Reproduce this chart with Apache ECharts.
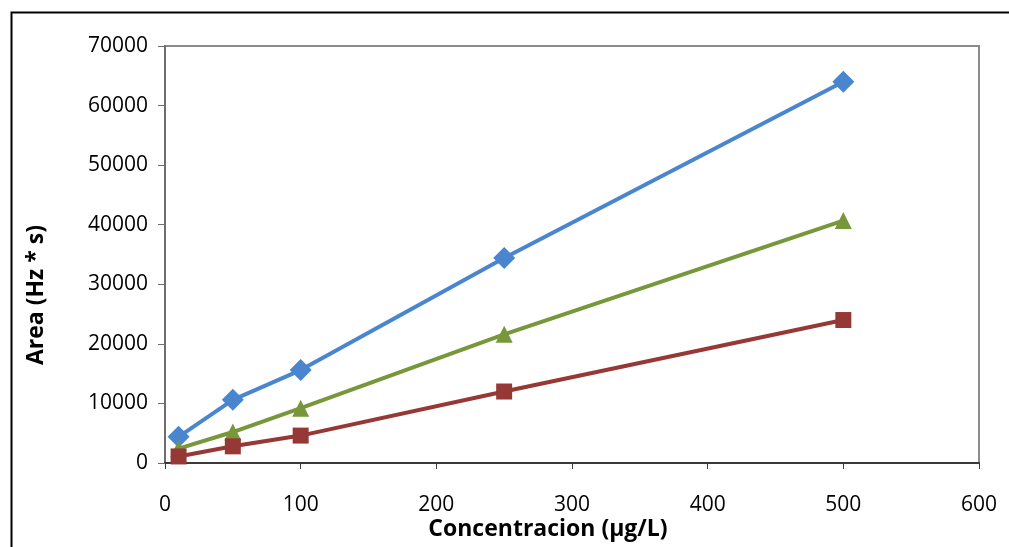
<!DOCTYPE html>
<html>
<head>
<meta charset="utf-8">
<script src="https://cdn.jsdelivr.net/npm/echarts@6/dist/echarts.min.js"></script>
<style>
  html, body { margin: 0; padding: 0; background: #fff; }
  #chart { width: 1009px; height: 547px; }
</style>
</head>
<body>
<div id="chart"></div>
<script>
// datos
const conc = [10, 50, 100, 250, 500];
const serieAzul = [4400, 10600, 15600, 34400, 64000];
const serieVerde = [2400, 5200, 9200, 21600, 40700];
const serieRoja = [1100, 2800, 4600, 12000, 24000];

const xTitulo = 'Concentracion (µg/L)';
const yTitulo = 'Area (Hz * s)';

const fuente = '"Open Sans", "Liberation Sans", sans-serif';

function pares(xs, ys) {
  return xs.map((x, i) => [x, ys[i]]);
}

function serie(nombre, datos, color, simbolo, tam) {
  return {
    name: nombre,
    type: 'line',
    data: pares(conc, datos),
    symbol: simbolo,
    symbolSize: tam,
    lineStyle: { color: color, width: 4 },
    itemStyle: { color: color },
    z: 3
  };
}

const chart = echarts.init(document.getElementById('chart'));

const option = {
  animation: false,
  backgroundColor: '#fff',
  grid: {
    left: 165,
    right: 30,
    top: 46,
    bottom: 84,
    show: true,
    borderColor: '#8c8c8c',
    borderWidth: 2,
    backgroundColor: 'transparent'
  },
  xAxis: {
    type: 'value',
    min: 0,
    max: 600,
    interval: 100,
    axisLine: { onZero: false, lineStyle: { color: '#3a3a3a', width: 2 } },
    axisTick: { show: true, length: 6, lineStyle: { color: '#3a3a3a', width: 1 } },
    axisLabel: { margin: 32, fontFamily: fuente, fontSize: 21, color: '#000' },
    splitLine: { show: false }
  },
  yAxis: {
    type: 'value',
    min: 0,
    max: 70000,
    interval: 10000,
    axisLine: { show: true, lineStyle: { color: '#6e6e6e', width: 2 } },
    axisTick: { show: true, length: 7, lineStyle: { color: '#6e6e6e', width: 1 } },
    axisLabel: {
      margin: 17,
      fontFamily: fuente,
      fontSize: 21,
      color: '#000',
      formatter: v => String(v)
    },
    splitLine: { show: false }
  },
  series: [
    serie('Azul', serieAzul, '#4a86cf', 'diamond', 22),
    serie('Verde', serieVerde, '#77973a', 'triangle', 17),
    serie('Roja', serieRoja, '#963835', 'rect', 16)
  ],
  graphic: [
    {
      type: 'rect',
      left: 9,
      top: 10,
      shape: { width: 1010, height: 545 },
      style: { fill: 'none', stroke: '#000', lineWidth: 2 },
      silent: true
    },
    {
      type: 'text',
      x: 548,
      y: 529,
      style: {
        text: xTitulo,
        font: 'bold 23px ' + fuente,
        fill: '#000',
        align: 'center',
        verticalAlign: 'middle'
      }
    },
    {
      type: 'text',
      x: 36,
      y: 295,
      rotation: Math.PI / 2,
      style: {
        text: yTitulo,
        font: 'bold 23px ' + fuente,
        fill: '#000',
        align: 'center',
        verticalAlign: 'middle'
      }
    }
  ]
};

chart.setOption(option);
</script>
</body>
</html>
